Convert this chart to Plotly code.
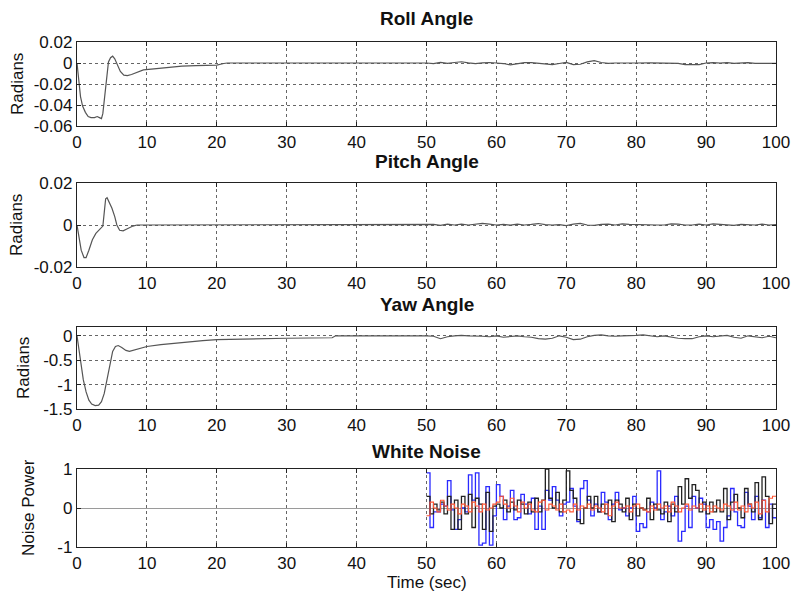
import plotly.graph_objects as go

# ---- attitude responses (time in s, angle in rad) ----
roll_t = [0, 0.1, 0.3, 0.5, 0.8, 1.2, 1.6, 2.0, 2.5, 2.9, 3.2, 3.5, 3.7, 3.9, 4.1, 4.3, 4.5, 4.8,
          5.1, 5.4, 5.8, 6.2, 6.7, 7.2, 7.8, 8.5, 9.5, 11, 13, 15, 17, 20, 21, 21.5, 50,
          51, 52, 53, 54, 55, 56, 57, 58, 59, 60, 61, 62, 63, 64, 65, 66, 67, 68, 69, 70,
          71, 72, 73, 74, 75, 76, 77, 78, 80, 82, 84, 86, 87, 88, 89, 90, 91, 92, 93, 94,
          95, 96, 97, 98, 99, 100]
roll_v = [0, -0.006, -0.022, -0.032, -0.041, -0.047, -0.051, -0.052, -0.052, -0.051, -0.052,
          -0.053, -0.048, -0.035, -0.02, -0.006, 0.001, 0.005, 0.0065, 0.004, -0.002, -0.008,
          -0.0115, -0.012, -0.011, -0.009, -0.0065, -0.0055, -0.004, -0.003, -0.0025, -0.002,
          -0.0005, 0, 0,
          -0.0005, 0.0005, -0.0003, 0.0005, 0.0012, 0.0002, -0.0005, 0.0002, 0.0005, 0.0,
          -0.0005, -0.0018, -0.0005, 0.0003, 0.0004, 0.0, -0.0008, -0.0015, -0.0005, 0.0005,
          -0.0015, -0.0012, 0.001, 0.0022, 0.0005, -0.0003, 0.0, 0.0002, 0.0, 0.0002, 0.0,
          -0.0003, -0.0015, -0.0018, -0.0015, 0.0, 0.0004, 0.0, 0.0003, -0.0004, 0.0, 0.0004,
          -0.0003, -0.0005, 0.0, -0.0003]

pitch_t = [0, 0.3, 0.6, 1.0, 1.3, 1.7, 2.2, 2.7, 3.2, 3.7, 3.9, 4.1, 4.3, 4.6, 5.0, 5.4, 5.7,
           6.1, 6.6, 7.2, 8.0, 8.6, 50,
           51, 52, 53, 54, 55, 56, 57, 58, 59, 60, 61, 62, 63, 64, 65, 66, 67, 68, 69, 70,
           71, 72, 73, 74, 75, 76, 77, 78, 79, 80, 81, 82, 83, 84, 85, 86, 87, 88, 89, 90,
           91, 92, 93, 94, 95, 96, 97, 98, 99, 100]
pitch_v = [0, -0.006, -0.012, -0.0155, -0.0155, -0.012, -0.007, -0.004, -0.002, -0.0005,
           0.006, 0.0125, 0.013, 0.011, 0.008, 0.004, 0.0, -0.0025, -0.0028, -0.0018, -0.0005,
           0, 0,
           0.0003, -0.0002, 0.0004, 0.0, 0.0004, 0.0, 0.0003, 0.0008, 0.0004, 0.0, 0.0003,
           -0.0001, 0.0004, 0.0, 0.0003, 0.0007, 0.0002, 0.0, 0.0002, -0.0003, 0.0004, 0.0008,
           0.0, -0.0002, 0.0003, 0.0004, 0.0, 0.0005, 0.0003, 0.0002, 0.0, -0.0002, 0.0, 0.0,
           0.0005, 0.0004, 0.0, 0.0, 0.0004, 0.0, 0.0005, 0.0003, 0.0, -0.0002, 0.0003, 0.0003,
           0.0, 0.0004, 0.0, 0.0002]

yaw_t = [0, 0.3, 0.6, 0.9, 1.3, 1.7, 2.1, 2.6, 3.1, 3.5, 3.9, 4.3, 4.7, 5.1, 5.5, 5.9, 6.4,
         7.0, 7.5, 8.2, 9, 10, 12, 14, 16, 18, 20, 25, 30, 36.5, 37, 50,
         51, 52, 53, 54, 55, 56, 57, 58, 59, 60, 61, 62, 63, 64, 65, 66, 67, 68, 69, 70,
         71, 72, 73, 74, 75, 76, 77, 78, 79, 80, 81, 82, 83, 84, 85, 86, 87, 88, 89, 90,
         91, 92, 93, 94, 95, 96, 97, 98, 99, 100]
yaw_v = [0, -0.3, -0.65, -0.9, -1.15, -1.32, -1.4, -1.43, -1.42, -1.35, -1.18, -0.9, -0.58,
         -0.32, -0.22, -0.2, -0.24, -0.3, -0.32, -0.29, -0.25, -0.22, -0.18, -0.15, -0.12,
         -0.1, -0.08, -0.06, -0.05, -0.04, 0, 0,
         -0.01, -0.06, -0.02, 0.0, 0.01, 0.0, 0.0, -0.01, -0.02, 0.0, -0.03, -0.01, 0.0,
         -0.02, -0.03, -0.06, -0.07, -0.05, 0.0, -0.03, -0.08, -0.07, -0.02, 0.01, 0.02, 0.0,
         -0.01, 0.0, 0.0, 0.01, 0.02, 0.0, -0.02, 0.0, -0.03, -0.05, -0.06, -0.06, -0.02, 0.0,
         -0.02, 0.0, 0.01, -0.03, -0.05, 0.0, -0.02, -0.04, -0.01, -0.04]

# ---- white-noise disturbances, zero-order hold, 0.5 s samples from t = 50 s ----
noise_t = [50 + 0.5 * k for k in range(101)]
noise_blue = [0.9, -0.5, -0.1, -0.1, 0.1, 0.05, 0.7, -0.05, -0.55, -0.3, 0.0, -0.1, 0.85, 0.2,
              0.9, -0.95, -0.9, 0.55, -0.95, -0.2,
              0.6, 0.3, -0.3, 0.05, 0.45, -0.3, -0.25, 0.35, 0.1, -0.15, 0.25, -0.55, 0.05,
              -0.55, 0.45, 0.2, 0.55, 0.2, -0.2, 0.1,
              0.15, 0.5, 0.05, -0.35, 0.5, 0.7, 0.2, -0.2, 0.1, -0.1, 0.4, 0.15, -0.3, 0.1,
              0.4, -0.05, 0.0, -0.2, 0.0, 0.3,
              -0.6, -0.4, -0.5, -0.1, 0.15, 0.0, 0.95, -0.3, -0.1, 0.05, -0.2, 0.3, -0.85,
              -0.6, 0.05, -0.5, 0.3, 0.0, 0.25, 0.1,
              -0.5, -0.3, -0.55, -0.35, -0.85, -0.5, -0.2, 0.5, -0.1, -0.45, -0.5, 0.4, 0.05,
              -0.3, 0.3, -0.25, 0.2, -0.5, 0.1, -0.25, -0.25]
noise_black = [0.3, -0.15, 0.1, -0.05, 0.15, -0.15, 0.3, -0.55, 0.2, -0.55, 0.3, -0.15, 0.35,
               -0.5, 0.25, 0.1, -0.55, 0.4, -0.6, 0.05,
               0.1, 0.0, 0.2, -0.1, 0.15, -0.05, 0.2, 0.1, -0.15, 0.15, -0.1, 0.25, -0.1, 0.2,
               1.0, 0.25, 0.0, 0.4, -0.1, 0.2,
               0.95, 0.45, 0.25, -0.3, -0.4, 0.0, 0.3, 0.0, 0.3, -0.1, 0.1, -0.15, 0.2, -0.35,
               0.2, 0.1, -0.1, 0.25, -0.3, 0.1,
               -0.2, 0.0, -0.05, 0.25, -0.3, 0.1, -0.05, -0.15, 0.15, -0.35, 0.1, -0.1, 0.55,
               0.1, 0.75, 0.25, 0.6, 0.45, -0.1, 0.15,
               -0.15, 0.15, -0.1, 0.2, -0.1, 0.5, -0.3, 0.15, 0.35, 0.0, -0.25, 0.5, 0.1, -0.1,
               0.65, -0.3, 0.8, 0.3, -0.4, 0.1, 0.1]
noise_red = [-0.2, 0.15, 0.0, -0.1, 0.2, 0.05, -0.05, 0.1, 0.0, -0.15, 0.1, 0.05, -0.1, 0.15,
             0.05, -0.1, 0.1, -0.05, 0.0, 0.1,
             0.15, 0.3, 0.1, 0.0, 0.25, 0.05, -0.1, 0.15, 0.0, 0.1, -0.05, -0.1, 0.15, 0.2,
             -0.05, 0.1, 0.05, -0.05, 0.1, -0.1,
             -0.05, -0.1, 0.1, -0.05, 0.05, 0.0, 0.1, -0.05, 0.05, 0.0, -0.1, 0.1, -0.2, 0.05,
             0.15, 0.0, 0.0, 0.05, -0.1, 0.05,
             0.1, 0.0, -0.05, -0.1, 0.05, -0.05, 0.1, 0.0, 0.05, -0.1, 0.15, 0.05, -0.1, 0.0,
             0.1, -0.05, 0.05, 0.0, 0.1, -0.05,
             0.05, -0.1, 0.05, 0.0, -0.05, 0.1, 0.05, -0.05, 0.15, -0.05, 0.05, -0.1, 0.1, 0.0,
             0.15, -0.15, 0.2, -0.1, 0.25, 0.3, 0.3]

x_ticks = [0, 10, 20, 30, 40, 50, 60, 70, 80, 90, 100]
roll_ticks = [0.02, 0, -0.02, -0.04, -0.06]
roll_labels = ["0.02", "0", "-0.02", "-0.04", "-0.06"]
pitch_ticks = [0.02, 0, -0.02]
pitch_labels = ["0.02", "0", "-0.02"]
yaw_ticks = [0, -0.5, -1, -1.5]
yaw_labels = ["0", "-0.5", "-1", "-1.5"]
noise_ticks = [1, 0, -1]
noise_labels = ["1", "0", "-1"]

titles = ["Roll Angle", "Pitch Angle", "Yaw Angle", "White Noise"]
y_titles = ["Radians", "Radians", "Radians", "Noise Power"]

W, H = 794, 596
ML, MR = 77, 18
FONT = "Liberation Sans, Arial, sans-serif"

# panel boxes in pixels (top, bottom) and label anchors
panels = [(42, 126), (183, 267), (327, 409), (469, 547)]
title_y = [18, 161, 304, 451]
ylab_pos = [(17, 84), (17, 225), (23, 368), (28, 508)]


def py(p):
    return 1 - p / H


def px(p):
    return (p - ML) / (W - ML - MR)


fig = go.Figure()
curve_col = "#555555"
for i, (tt, vv) in enumerate([(roll_t, roll_v), (pitch_t, pitch_v), (yaw_t, yaw_v)]):
    sfx = "" if i == 0 else str(i + 1)
    fig.add_trace(go.Scatter(x=tt, y=vv, mode="lines", line=dict(color=curve_col, width=1.2),
                             xaxis="x" + sfx, yaxis="y" + sfx))

for vals, col, w in [(noise_blue, "#2a2aff", 1.3), (noise_black, "#222222", 1.3),
                     (noise_red, "#ff5533", 1.1)]:
    fig.add_trace(go.Scatter(x=noise_t, y=vals, mode="lines",
                             line=dict(color=col, width=w, shape="hv"),
                             xaxis="x4", yaxis="y4"))

tickfont = dict(family=FONT, size=17, color="#111")
ranges = [[-0.06, 0.02], [-0.02, 0.02], [-1.5, 0.18], [-1, 1]]
yticks = [(roll_ticks, roll_labels), (pitch_ticks, pitch_labels), (yaw_ticks, yaw_labels),
          (noise_ticks, noise_labels)]

layout = dict(
    width=W, height=H, showlegend=False, template="none",
    paper_bgcolor="white", plot_bgcolor="white",
    margin=dict(l=ML, r=MR, t=0, b=0, autoexpand=False),
)
for i in range(4):
    sfx = "" if i == 0 else str(i + 1)
    top, bot = panels[i]
    layout["xaxis" + sfx] = dict(
        domain=[0, 1], range=[0, 100], anchor="y" + sfx, automargin=False,
        tickvals=x_ticks, ticktext=[str(v) for v in x_ticks], tickfont=tickfont,
        showgrid=True, gridcolor="#666666", griddash="dot", gridwidth=1,
        showline=True, linecolor="#222", linewidth=1.3, mirror="ticks",
        ticks="inside", ticklen=4, tickcolor="#222", zeroline=False,
    )
    layout["yaxis" + sfx] = dict(
        domain=[py(bot), py(top)], range=ranges[i], anchor="x" + sfx, automargin=False,
        tickvals=yticks[i][0], ticktext=yticks[i][1], tickfont=tickfont,
        showgrid=True, gridcolor="#666666", griddash="dot", gridwidth=1,
        showline=True, linecolor="#222", linewidth=1.3, mirror="ticks",
        ticks="inside", ticklen=4, tickcolor="#222",
        zeroline=(i == 3), zerolinecolor="#9a9a9a", zerolinewidth=1.2,
    )

annotations = []
for i in range(4):
    annotations.append(dict(text="<b>%s</b>" % titles[i], x=0.5, y=py(title_y[i]),
                            xref="paper", yref="paper", showarrow=False,
                            xanchor="center", yanchor="middle",
                            font=dict(family=FONT, size=19, color="#111")))
    annotations.append(dict(text=y_titles[i], x=px(ylab_pos[i][0]), y=py(ylab_pos[i][1]),
                            xref="paper", yref="paper", showarrow=False, textangle=-90,
                            xanchor="center", yanchor="middle",
                            font=dict(family=FONT, size=17, color="#111")))
annotations.append(dict(text="Time (sec)", x=0.5, y=py(582), xref="paper", yref="paper",
                        showarrow=False, xanchor="center", yanchor="middle",
                        font=dict(family=FONT, size=17, color="#111")))
layout["annotations"] = annotations
fig.update_layout(**layout)
fig.write_html("out.html")
